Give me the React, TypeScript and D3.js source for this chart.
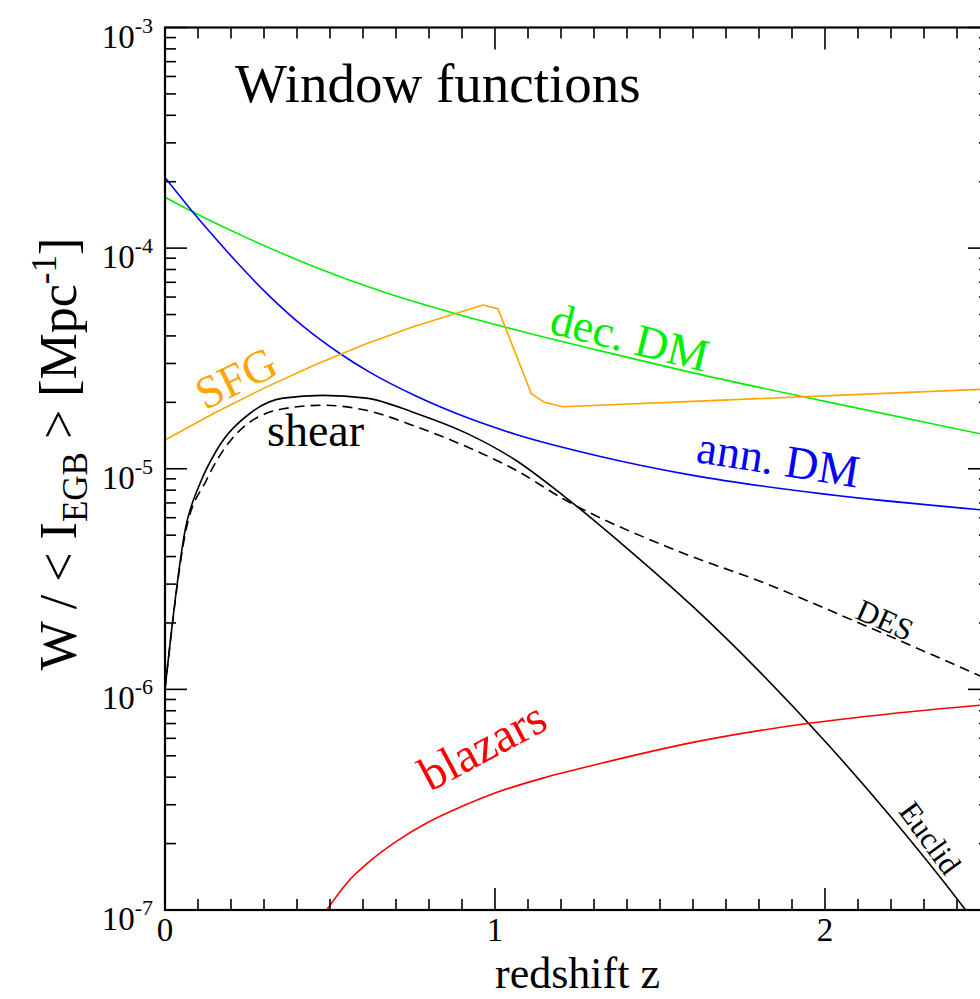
import React from 'react';
import * as d3 from 'd3';

// Window functions W(z) / <I_EGB>  [Mpc^-1]

// annihilating dark matter
const zAnn = [0, 0.076, 0.15, 0.217, 0.308, 0.419, 0.53, 0.62, 0.762, 0.913, 1.064, 1.316, 1.6, 2.0, 2.5];
const wAnn = [2.09e-4, 1.51e-4, 1.12e-4, 8.65e-5, 6.24e-5, 4.42e-5, 3.33e-5, 2.74e-5, 2.13e-5, 1.71e-5, 1.43e-5, 1.14e-5, 9.33e-6, 7.67e-6, 6.46e-6];

// decaying dark matter
const zDec = [0, 0.1, 0.25, 0.45, 0.66, 0.9, 1.1, 1.316, 1.6, 2.0, 2.5];
const wDec = [1.7e-4, 1.42e-4, 1.11e-4, 8.26e-5, 6.34e-5, 4.95e-5, 4.12e-5, 3.43e-5, 2.72e-5, 2.02e-5, 1.41e-5];

// star-forming galaxies
const zSfg = [0, 0.15, 0.3, 0.45, 0.6, 0.75, 0.903, 0.963, 1.009, 1.11, 1.15, 1.205, 1.316, 1.6, 2.0, 2.5];
const wSfg = [1.35e-5, 1.79e-5, 2.32e-5, 2.94e-5, 3.64e-5, 4.39e-5, 5.18e-5, 5.52e-5, 5.32e-5, 2.19e-5, 2.0e-5, 1.91e-5, 1.94e-5, 2.02e-5, 2.14e-5, 2.3e-5];

// cosmic shear, Euclid
const zEuclid = [0, 0.062, 0.106, 0.156, 0.257, 0.358, 0.479, 0.61, 0.762, 0.913, 1.064, 1.205, 1.4, 1.6, 1.8, 2.0, 2.2, 2.426, 2.5];
const wEuclid = [1e-6, 5.37e-6, 8.57e-6, 1.21e-5, 1.78e-5, 2.09e-5, 2.15e-5, 2.09e-5, 1.78e-5, 1.45e-5, 1.09e-5, 7.6e-6, 4.36e-6, 2.37e-6, 1.21e-6, 5.82e-7, 2.64e-7, 1.0e-7, 7.1e-8];

// cosmic shear, DES
const zDes = [0, 0.062, 0.126, 0.207, 0.358, 0.479, 0.61, 0.762, 0.913, 1.064, 1.205, 1.548, 1.82, 2.083, 2.5];
const wDes = [1e-6, 5.13e-6, 8.91e-6, 1.39e-5, 1.87e-5, 1.94e-5, 1.84e-5, 1.55e-5, 1.26e-5, 9.84e-6, 7.33e-6, 4.27e-6, 3.02e-6, 2.06e-6, 1.1e-6];

// blazars
const zBlz = [0.49, 0.55, 0.62, 0.7, 0.8, 0.9, 1.0, 1.15, 1.316, 1.6, 1.94, 2.2, 2.5];
const wBlz = [1e-7, 1.32e-7, 1.66e-7, 2.04e-7, 2.51e-7, 2.95e-7, 3.39e-7, 3.98e-7, 4.6e-7, 5.75e-7, 6.98e-7, 7.76e-7, 8.55e-7];

const xMajor = [0, 1, 2];
const yDecades = [-7, -6, -5, -4, -3];

const FONT = '"Liberation Serif", "Times New Roman", Times, "Nimbus Roman", "DejaVu Serif", serif';
const X0 = 165, X1 = 990, Y0 = 27.5, Y1 = 910;

export default function App() {
  const x = d3.scaleLinear().domain([0, 2.5]).range([X0, X1]);
  const y = d3.scaleLog().domain([1e-7, 1e-3]).range([Y1, Y0]);

  const path = (zs: number[], ws: number[], curve: d3.CurveFactory) =>
    d3.line<number>()
      .x((_, i) => x(zs[i]))
      .y((_, i) => y(ws[i]))
      .curve(curve)(zs) || '';

  const xMinor = d3.range(0, 26, 1).map(v => v / 10).filter(v => !xMajor.includes(v));
  const yMinor: number[] = [];
  yDecades.slice(0, -1).forEach(d => {
    for (let k = 2; k <= 9; k++) yMinor.push(k * Math.pow(10, d));
  });

  const major = 22, minor = 11;

  return (
    <svg width={980} height={999} style={{ position: 'absolute', left: 0, top: 0, background: '#fff', fontFamily: FONT }}>
      <defs>
        <clipPath id="plotArea">
          <rect x={X0} y={Y0} width={X1 - X0} height={Y1 - Y0} />
        </clipPath>
      </defs>

      {/* curves */}
      <g clipPath="url(#plotArea)" fill="none" strokeWidth={1.6}>
        <path d={path(zDec, wDec, d3.curveMonotoneX)} stroke="#00ee00" />
        <path d={path(zAnn, wAnn, d3.curveMonotoneX)} stroke="#0000ff" />
        <path d={path(zSfg, wSfg, d3.curveLinear)} stroke="#ffa500" />
        <path d={path(zEuclid, wEuclid, d3.curveMonotoneX)} stroke="#000" />
        <path d={path(zDes, wDes, d3.curveMonotoneX)} stroke="#000" strokeDasharray="10,6" />
        <path d={path(zBlz, wBlz, d3.curveMonotoneX)} stroke="#ff0000" />
      </g>

      {/* frame */}
      <rect x={X0} y={Y0} width={X1 - X0} height={Y1 - Y0} fill="none" stroke="#000" strokeWidth={2.2} />

      {/* ticks */}
      <g stroke="#000" strokeWidth={1.6}>
        {xMajor.map(v => (
          <g key={'xM' + v}>
            <line x1={x(v)} x2={x(v)} y1={Y1} y2={Y1 - major} />
            <line x1={x(v)} x2={x(v)} y1={Y0} y2={Y0 + major} />
          </g>
        ))}
        {xMinor.map(v => (
          <g key={'xm' + v}>
            <line x1={x(v)} x2={x(v)} y1={Y1} y2={Y1 - minor} />
            <line x1={x(v)} x2={x(v)} y1={Y0} y2={Y0 + minor} />
          </g>
        ))}
        {yDecades.map(d => (
          <g key={'yM' + d}>
            <line x1={X0} x2={X0 + major} y1={y(Math.pow(10, d))} y2={y(Math.pow(10, d))} />
            <line x1={X1} x2={X1 - major} y1={y(Math.pow(10, d))} y2={y(Math.pow(10, d))} />
          </g>
        ))}
        {yMinor.map((v, i) => (
          <g key={'ym' + i}>
            <line x1={X0} x2={X0 + minor} y1={y(v)} y2={y(v)} />
            <line x1={X1} x2={X1 - minor} y1={y(v)} y2={y(v)} />
          </g>
        ))}
      </g>

      {/* tick labels */}
      <g fill="#000">
        {yDecades.map(d => (
          <text key={'yl' + d} x={153} y={y(Math.pow(10, d)) + 20} fontSize={33} textAnchor="end">
            10<tspan dy={-15} fontSize={22}>{String(d)}</tspan>
          </text>
        ))}
        {xMajor.map(v => (
          <text key={'xl' + v} x={x(v)} y={941} fontSize={33} textAnchor="middle">{String(v)}</text>
        ))}
      </g>

      {/* axis titles */}
      <text x={(X0 + X1) / 2} y={988} fontSize={44} textAnchor="middle">redshift z</text>
      <text transform="translate(76, 454) rotate(-90)" fontSize={52} textAnchor="middle">
        W / &lt; I<tspan dy={11} fontSize={35}>EGB</tspan><tspan dy={-11}> &gt; [Mpc</tspan>
        <tspan dy={-20} fontSize={35}>-1</tspan><tspan dy={20}>]</tspan>
      </text>

      {/* title */}
      <text x={235} y={102} fontSize={55}>Window functions</text>

      {/* curve labels */}
      <text transform="translate(236, 378) rotate(-26)" fontSize={46} fill="#ffa500" textAnchor="middle" dominantBaseline="central">SFG</text>
      <text x={267} y={446} fontSize={46} fill="#000">shear</text>
      <text transform="translate(548, 333) rotate(14)" fontSize={46} fill="#00ee00">dec. DM</text>
      <text transform="translate(695, 462) rotate(9)" fontSize={46} fill="#0000ff">ann. DM</text>
      <text transform="translate(490, 760) rotate(-28)" fontSize={48} fill="#ff0000" textAnchor="middle">blazars</text>
      <text transform="translate(885, 620) rotate(24)" fontSize={31} fill="#000" textAnchor="middle" dominantBaseline="central">DES</text>
      <text transform="translate(930, 838) rotate(54)" fontSize={31} fill="#000" textAnchor="middle" dominantBaseline="central">Euclid</text>
    </svg>
  );
}
